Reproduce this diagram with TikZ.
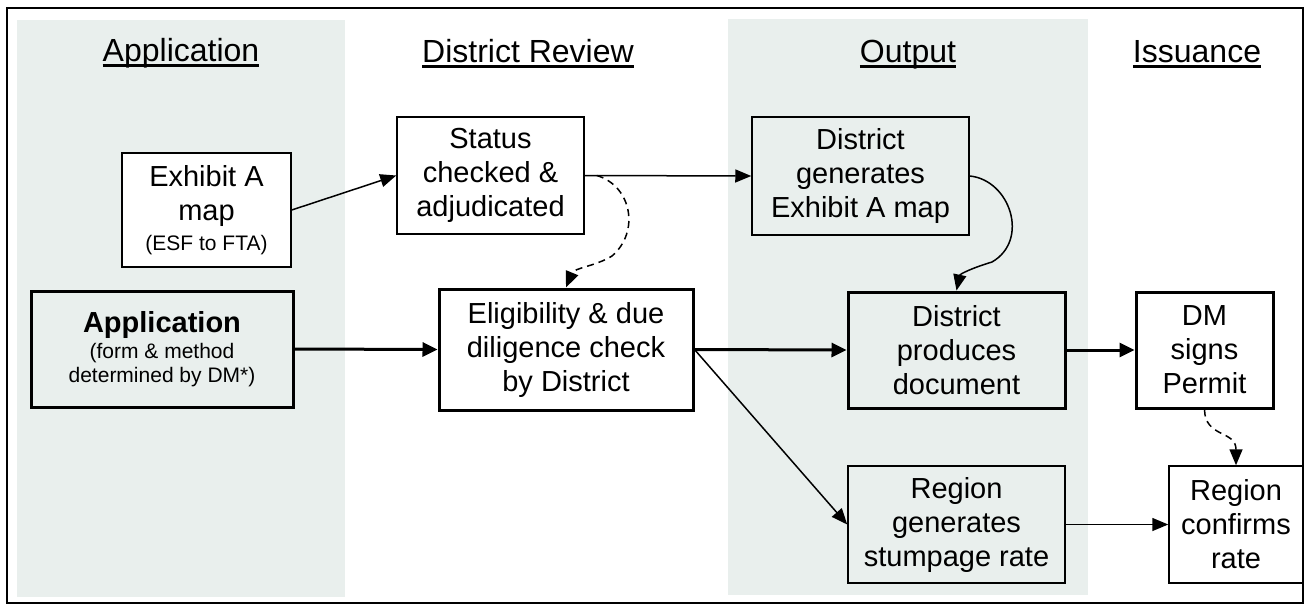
\documentclass[tikz,border=0pt]{standalone}
\usepackage{fontspec}
\setmainfont{Liberation Sans}
\usetikzlibrary{arrows.meta}
\definecolor{bandfill}{RGB}{233,239,237}
% heading text with a heavy underline
\newcommand\hdline[1]{\setbox0\hbox{#1}\rlap{\rule[-6pt]{\wd0}{3pt}}\box0}
\begin{document}
\begin{tikzpicture}[x=1pt,y=-1pt,
  box/.style={draw,line width=1.5pt,inner sep=0pt,align=center,
              font=\fontsize{29}{34}\selectfont},
  thickbox/.style={box,line width=3pt},
  whitebox/.style={fill=white},
  head/.style={anchor=base,inner sep=0pt,font=\fontsize{32}{36}\selectfont},
  flow/.style={-{Triangle[length=16pt,width=13pt]},line width=1.5pt},
  mainflow/.style={-{Triangle[length=15pt,width=14pt]},line width=3pt},
  hint/.style={flow,dash pattern=on 7pt off 5pt}]
\useasboundingbox (0,0) rectangle (1308,608);
\fill[white] (0,0) rectangle (1308,608);

% shaded phase bands
\fill[bandfill] (17,20) rectangle (345,597);
\fill[bandfill] (728,19) rectangle (1088,595);

% outer frame
\draw[line width=1.8pt] (7,8) rectangle (1303,603);

% phase headings
\node[head] (hApp) at (181,61) {\hdline{Application}};
\node[head] (hRev) at (528,62) {\hdline{District Review}};
\node[head] (hOut) at (908,62) {\hdline{Output}};
\node[head] (hIss) at (1197,62) {\hdline{Issuance}};

% process boxes
\node[box,whitebox,minimum width=169pt,minimum height=114pt] (exA) at (206.5,210)
  {Exhibit A\\map\\[-4pt]{\fontsize{21}{24}\selectfont (ESF to FTA)}};
\node[box,whitebox,minimum width=187pt,minimum height=117pt] (status) at (490.5,175.5)
  {Status\\checked \&\\adjudicated};
\node[box,minimum width=217pt,minimum height=118pt] (distgen) at (860.5,176)
  {District\\generates\\Exhibit A map};
\node[thickbox,minimum width=262pt,minimum height=116pt] (app) at (162,349)
  {\textbf{Application}\\[-8pt]{\fontsize{21}{24}\selectfont (form \& method}\\[-10pt]{\fontsize{21}{24}\selectfont determined by DM*)}};
\node[thickbox,whitebox,minimum width=254pt,minimum height=121pt] (elig) at (566,349.5)
  {Eligibility \& due\\diligence check\\by District};
\node[thickbox,minimum width=217pt,minimum height=116pt] (distprod) at (956.5,350)
  {District\\produces\\document};
\node[thickbox,whitebox,minimum width=137pt,minimum height=116pt] (dm) at (1204.5,350)
  {DM\\signs\\Permit};
\node[box,minimum width=217pt,minimum height=117pt] (regen) at (956.5,524.5)
  {Region\\generates\\stumpage rate};
\node[box,whitebox,minimum width=134pt,minimum height=117pt] (regconf) at (1236,524.5)
  {Region\\confirms\\rate};

% connectors
\draw[flow] (exA.east) -- (status.west);
\draw[flow] (status.east) -- (distgen.west);
\draw[hint] ([xshift=12pt]status.east) .. controls (632,186) and (640,232) .. (612,256)
  .. controls (596,266) and (574,268) .. (elig.north);
\draw[flow] (distgen.east) .. controls (1010,180) and (1030,240) .. (992,262)
  .. controls (972,268) and (960,274) .. (distprod.north);
\draw[mainflow] (app.east) -- (elig.west);
\draw[mainflow] (elig.east) -- (distprod.west);
\draw[flow] (elig.east) -- (regen.west);
\draw[mainflow] (distprod.east) -- (dm.west);
\draw[hint] (dm.south) .. controls (1205,438) and (1236,430) .. (regconf.north);
\draw[flow] (regen.east) -- (regconf.west);
\end{tikzpicture}
\end{document}
